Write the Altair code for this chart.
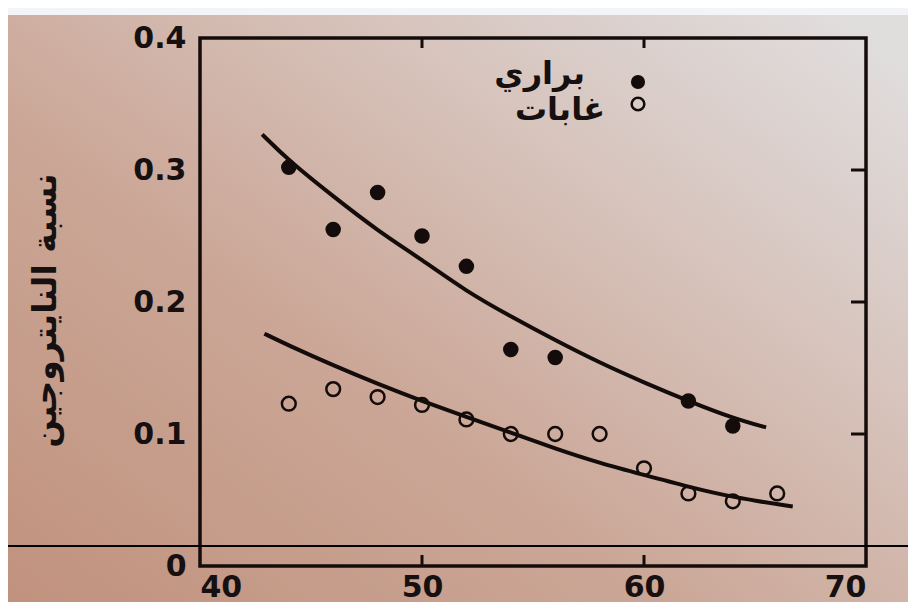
import altair as alt
import pandas as pd

# ---- data ----
filled_x = [44, 46, 48, 50, 52, 54, 56, 62, 64]
filled_y = [0.302, 0.255, 0.283, 0.250, 0.227, 0.164, 0.158, 0.125, 0.106]
open_x = [44, 46, 48, 50, 52, 54, 56, 58, 60, 62, 64, 66]
open_y = [0.123, 0.134, 0.128, 0.122, 0.111, 0.100, 0.100, 0.100, 0.074, 0.055, 0.049, 0.055]
upper_x = [42.8, 44, 46, 48, 50, 52, 54, 56, 58, 60, 62, 64, 65.5]
upper_y = [0.327, 0.307, 0.280, 0.254, 0.232, 0.208, 0.189, 0.171, 0.154, 0.139, 0.125, 0.112, 0.105]
lower_x = [42.9, 44, 46, 48, 50, 52, 54, 56, 58, 60, 62, 64, 66.7]
lower_y = [0.176, 0.167, 0.152, 0.138, 0.125, 0.113, 0.101, 0.089, 0.078, 0.069, 0.060, 0.052, 0.045]
x_tick_values = [40, 50, 60, 70]
y_tick_values = [0, 0.1, 0.2, 0.3, 0.4]
inner_x_ticks = [50, 60]
right_y_ticks = [0.1, 0.2, 0.3]
legend_labels = ["براري", "غابات"]
y_title = "نسبة النايتروجين"

W, H = 666, 528
PL, PT, PR, PB = 192, 30, 42, 36
FONT = "DejaVu Sans"
INK = "#140c0a"

filled_df = pd.DataFrame({"x": filled_x, "y": filled_y})
open_df = pd.DataFrame({"x": open_x, "y": open_y})
upper_df = pd.DataFrame({"x": upper_x, "y": upper_y})
lower_df = pd.DataFrame({"x": lower_x, "y": lower_y})
one = pd.DataFrame({"a": [0]})

xscale = alt.Scale(domain=[40, 70], nice=False, zero=False)
yscale = alt.Scale(domain=[0, 0.4], nice=False)

xaxis = alt.Axis(values=x_tick_values, title=None, labelFontSize=30, labelFont=FONT,
                 labelFontWeight="bold", labelColor="#161010", labelPadding=6,
                 ticks=False, domain=False, grid=False, zindex=2)
yaxis = alt.Axis(values=y_tick_values, labelExpr="datum.value == 0 ? '0' : format(datum.value, '.1f')",
                 labelFontSize=30, labelFont=FONT, labelFontWeight="bold", labelColor="#161010",
                 labelPadding=14, ticks=False, domain=False, grid=False, zindex=2,
                 title=y_title, titleFont=FONT, titleFontSize=33, titleFontWeight="bold",
                 titleColor="#161010", titleX=-155, titleY=272, titleAngle=-90,
                 titleBaseline="middle", titleAlign="center")

bg = alt.Chart(one).mark_rect(
    color=alt.Gradient(gradient="linear",
                       stops=[alt.GradientStop(color="#c0927e", offset=0),
                              alt.GradientStop(color="#cba696", offset=0.4),
                              alt.GradientStop(color="#d7c4bd", offset=0.72),
                              alt.GradientStop(color="#e0dddd", offset=1)],
                       x1=0, x2=1, y1=1, y2=0.1)
).encode(x=alt.value(-PL), x2=alt.value(W + PR), y=alt.value(-PT), y2=alt.value(H + PB))

top_strip = alt.Chart(one).mark_rect(color="#f3f4f7").encode(
    x=alt.value(-PL), x2=alt.value(W + PR), y=alt.value(-PT), y2=alt.value(-PT + 7))

frame = alt.Chart(one).mark_rect(fill=None, stroke=INK, strokeWidth=3.5).encode(
    x=alt.value(0), x2=alt.value(W), y=alt.value(0), y2=alt.value(H))

upper = alt.Chart(upper_df).mark_line(color=INK, strokeWidth=4, interpolate="basis").encode(
    x=alt.X("x:Q", scale=xscale, axis=xaxis), y=alt.Y("y:Q", scale=yscale, axis=yaxis))
lower = alt.Chart(lower_df).mark_line(color=INK, strokeWidth=4, interpolate="basis").encode(
    x=alt.X("x:Q", scale=xscale), y=alt.Y("y:Q", scale=yscale))

pts_filled = alt.Chart(filled_df).mark_point(filled=True, color=INK, size=240, opacity=1).encode(
    x=alt.X("x:Q", scale=xscale), y=alt.Y("y:Q", scale=yscale))
pts_open = alt.Chart(open_df).mark_point(filled=False, color=INK, size=190, strokeWidth=2.5, opacity=1).encode(
    x=alt.X("x:Q", scale=xscale), y=alt.Y("y:Q", scale=yscale))

leg_dot1 = alt.Chart(one).mark_point(filled=True, color=INK, size=200, opacity=1).encode(
    x=alt.value(438), y=alt.value(44))
leg_dot2 = alt.Chart(one).mark_point(filled=False, color=INK, size=160, strokeWidth=2.5, opacity=1).encode(
    x=alt.value(438), y=alt.value(66))
leg_txt1 = alt.Chart(one).mark_text(text=legend_labels[0], font=FONT, fontSize=32, fontWeight="bold",
                                    align="right", baseline="middle", color="#161010").encode(
    x=alt.value(385), y=alt.value(36))
leg_txt2 = alt.Chart(one).mark_text(text=legend_labels[1], font=FONT, fontSize=32, fontWeight="bold",
                                    align="right", baseline="middle", color="#161010").encode(
    x=alt.value(405), y=alt.value(72))

tick_df = pd.DataFrame({"x": inner_x_ticks})
bottom_ticks = alt.Chart(tick_df).mark_rule(color=INK, strokeWidth=3).encode(
    x=alt.X("x:Q", scale=xscale), y=alt.value(H), y2=alt.value(H - 11))
top_ticks = alt.Chart(tick_df).mark_rule(color=INK, strokeWidth=3).encode(
    x=alt.X("x:Q", scale=xscale), y=alt.value(0), y2=alt.value(10))
rtick_df = pd.DataFrame({"y": right_y_ticks})
right_ticks = alt.Chart(rtick_df).mark_rule(color=INK, strokeWidth=3).encode(
    y=alt.Y("y:Q", scale=yscale), x=alt.value(W), x2=alt.value(W - 15))

hline = alt.Chart(one).mark_rule(color="#000000", strokeWidth=2).encode(
    x=alt.value(-PL), x2=alt.value(W + PR), y=alt.value(508))

chart = alt.layer(
    bg, top_strip, frame, upper, lower, pts_filled, pts_open,
    leg_dot1, leg_dot2, leg_txt1, leg_txt2,
    bottom_ticks, top_ticks, right_ticks, hline
).properties(
    width=W, height=H,
    padding={"left": PL, "top": PT, "right": PR, "bottom": PB},
    autosize=alt.AutoSizeParams(type="none"),
    background="#d2b3a5"
).configure_view(stroke=None)

chart.save("out.html", embed_options={"renderer": "svg", "actions": False})
